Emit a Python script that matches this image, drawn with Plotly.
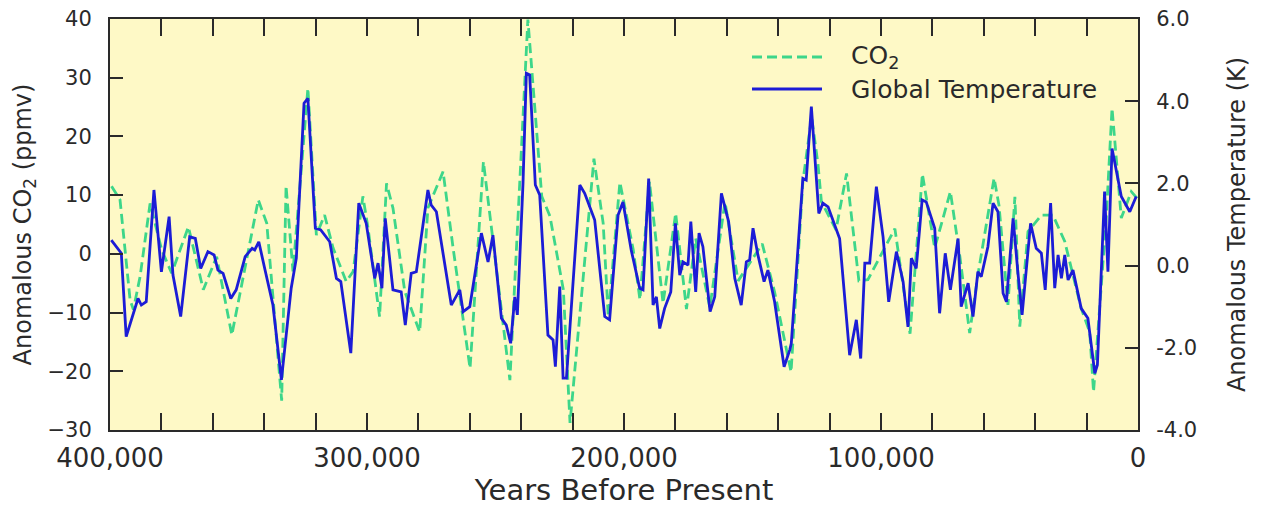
import plotly.graph_objects as go

# Vostok-style anomaly records, age in thousands of years before present
temp_kyr = [399.5, 395.6, 393.7, 389.1, 387.8, 385.9, 382.9, 380.0, 377.0, 375.5,
            372.5, 369.0, 366.8, 364.7, 361.9, 359.5, 358.0, 356.0, 353.0, 350.9,
            347.4, 344.7, 343.7, 342.1, 339.8, 336.6, 333.3, 329.5, 327.5, 324.5,
            323.0, 320.1, 318.0, 314.5, 311.9, 310.2, 306.3, 303.2, 300.3, 297.0,
            295.7, 294.2, 292.9, 289.9, 286.7, 285.1, 282.8, 280.8, 276.3, 275.0,
            273.0, 267.2, 263.9, 262.6, 260.0, 255.5, 252.9, 251.0, 247.7, 245.8,
            244.1, 242.5, 241.5, 239.3, 238.0, 236.7, 234.5, 232.8, 229.6, 227.6,
            226.7, 225.0, 223.7, 222.4, 217.2, 215.3, 211.4, 207.5, 205.6, 202.3,
            200.4, 197.2, 193.9, 192.6, 190.4, 188.7, 187.4, 186.1, 184.2, 181.8,
            180.0, 178.3, 177.0, 175.1, 174.0, 172.1, 170.8, 169.3, 166.5, 164.7,
            162.1, 160.8, 159.3, 156.9, 154.4, 152.4, 151.1, 149.8, 147.9, 145.5,
            144.0, 141.4, 137.7, 135.5, 134.9, 130.4, 129.1, 127.1, 124.2, 122.6,
            120.6, 116.1, 112.2, 109.6, 107.9, 106.3, 104.4, 101.8, 99.2, 97.0,
            94.0, 91.4, 89.5, 88.2, 86.3, 84.0, 82.4, 79.1, 77.2, 75.0,
            73.0, 70.0, 68.8, 66.1, 64.2, 62.3, 61.0, 58.4, 56.4, 54.5,
            52.5, 51.2, 48.6, 46.7, 45.1, 41.8, 39.6, 37.6, 36.1, 34.0,
            32.4, 31.1, 29.8, 28.5, 27.2, 25.3, 22.1, 19.5, 16.8, 15.8,
            13.0, 11.7, 10.1, 6.5, 3.2, 0.7]
temp_k = [0.62, 0.30, -1.73, -0.80, -0.96, -0.88, 1.84, -0.15, 1.19, -0.23,
          -1.24, 0.70, 0.66, -0.07, 0.34, 0.26, -0.11, -0.19, -0.80, -0.59,
          0.22, 0.42, 0.38, 0.58, -0.07, -0.96, -2.78, -0.55, 0.18, 3.95,
          4.07, 0.91, 0.87, 0.58, -0.31, -0.39, -2.13, 1.52, 1.03, -0.31,
          0.06, -0.55, 1.15, -0.59, -0.64, -1.45, -0.19, -0.15, 1.84, 1.47,
          1.31, -0.96, -0.59, -1.12, -1.00, 0.79, 0.09, 0.74, -1.28, -1.45,
          -1.89, -0.76, -1.20, 2.00, 4.68, 4.64, 1.96, 1.72, -1.69, -1.81,
          -2.46, -0.51, -2.74, -2.74, 1.96, 1.76, 1.11, -1.24, -1.32, 1.23,
          1.55, 0.38, -0.55, -0.59, 2.12, -0.96, -0.76, -1.53, -1.04, -0.64,
          1.03, -0.23, 0.09, 0.01, 1.07, -0.64, 0.79, 0.46, -1.12, -0.76,
          1.76, 1.47, 1.07, -0.31, -0.96, 0.09, 0.14, 0.91, 0.26, -0.39,
          -0.11, -0.88, -2.46, -2.05, -1.89, 2.12, 2.08, 3.87, 1.27, 1.52,
          1.43, 0.66, -2.18, -1.32, -2.26, 0.06, 0.06, 1.92, 0.70, -0.88,
          0.34, -0.39, -1.49, 0.18, -0.07, 1.60, 1.55, 0.91, -1.16, 0.30,
          -0.59, 0.66, -1.00, -0.43, -1.24, -0.15, -0.27, 0.46, 1.52, 1.31,
          -0.67, -0.88, 1.15, -0.19, -1.20, 1.03, 0.42, 0.30, -0.59, 1.52,
          -0.55, 0.26, -0.31, 0.26, -0.35, -0.11, -1.04, -1.28, -2.62, -2.42,
          1.80, -0.15, 2.85, 1.68, 1.31, 1.68]

co2_kyr = [399.4, 396.1, 392.2, 390.9, 388.3, 384.4, 379.9, 376.0, 369.5, 363.7,
           358.5, 352.6, 349.4, 342.3, 339.0, 333.2, 331.5, 328.8, 323.0, 319.7,
           316.5, 313.2, 308.1, 305.4, 301.6, 299.6, 295.1, 292.4, 289.9, 285.3,
           279.5, 276.3, 270.4, 266.5, 259.9, 254.7, 244.4, 237.4, 232.0, 228.8,
           223.6, 221.0, 211.7, 208.1, 206.1, 201.6, 196.4, 193.8, 190.1, 184.8,
           179.9, 175.7, 172.1, 166.6, 160.7, 155.6, 146.2, 141.4, 135.0, 130.4,
           127.0, 124.5, 123.2, 117.5, 113.4, 108.6, 105.1, 94.6, 88.7, 83.9,
           79.1, 73.0, 69.3, 65.5, 62.3, 56.0, 54.1, 50.6, 47.9, 46.0,
           42.8, 37.6, 33.1, 28.5, 25.3, 22.1, 18.8, 17.3, 12.3, 10.1,
           6.5, 2.6, 0.4]
co2_ppmv = [11.5, 9.2, -7.8, -9.5, -3.9, 8.6, 0.7, -3.3, 4.6, -6.1,
            -0.5, -13.8, -6.7, 9.2, 5.2, -25.0, 11.6, -3.0, 28.2, 3.2,
            6.6, 1.0, -4.7, -3.0, 9.8, 4.4, -10.7, 12.0, 7.8, -6.4,
            -13.3, 7.8, 14.0, 1.0, -19.5, 15.7, -21.5, 39.9, 9.8, 6.4,
            -6.1, -28.8, 16.2, 5.2, -10.7, 12.2, 0.7, -7.8, 12.3, -8.4,
            6.9, -9.4, 2.6, -9.1, 8.8, -4.6, 1.7, -6.5, -20.1, 12.3,
            23.3, 15.2, 8.9, 4.1, 13.7, -4.6, -4.4, 4.3, -13.6, 13.6,
            1.0, 10.6, -0.5, -13.5, -3.6, 12.9, 8.3, -8.7, 9.7, -12.4,
            3.8, 6.6, 6.6, 2.1, -3.6, -9.3, -13.3, -23.5, 6.6, 24.8,
            6.1, 10.6, 9.5]

x_tick_vals = [400000, 300000, 200000, 100000, 0]
x_tick_text = ["400,000", "300,000", "200,000", "100,000", "0"]
temp_tick_vals = [-4, -2, 0, 2, 4, 6]
temp_tick_text = ["-4.0", "-2.0", "0.0", "2.0", "4.0", "6.0"]

TEMP_COLOR = "#1c1cd6"
CO2_COLOR = "#3dd68a"
INK = "#2a2a2a"
FONT = "DejaVu Sans"

fig = go.Figure()
fig.add_trace(go.Scatter(
    x=[k * 1000 for k in temp_kyr], y=temp_k, yaxis="y2",
    mode="lines", name="Global Temperature",
    line=dict(color=TEMP_COLOR, width=2.8),
))
fig.add_trace(go.Scatter(
    x=[k * 1000 for k in co2_kyr], y=co2_ppmv,
    mode="lines", name="CO<sub>2</sub>",
    line=dict(color=CO2_COLOR, width=2.8, dash="10px,5px"),
))

axis_common = dict(
    showline=True, linecolor=INK, linewidth=2,
    ticks="inside", tickcolor=INK, tickwidth=2,
    showgrid=False, zeroline=False, automargin=False,
)

fig.update_layout(
    width=1263, height=507,
    margin=dict(l=110, r=125, t=19, b=77),
    paper_bgcolor="white", plot_bgcolor="#fef9c6",
    font=dict(family=FONT, size=21, color=INK),
    showlegend=False,
    xaxis=dict(
        **axis_common,
        range=[400000, 0], mirror="allticks",
        tickmode="array", tickvals=x_tick_vals, ticktext=x_tick_text,
        tickfont=dict(size=26),
        ticklen=17, ticklabelstandoff=4,
        minor=dict(tickmode="linear", tick0=0, dtick=20000, ticks="inside",
                   ticklen=9, tickwidth=2, tickcolor=INK, showgrid=False),
        title=dict(text="Years Before Present", font=dict(size=29), standoff=8),
    ),
    yaxis=dict(
        **axis_common,
        range=[-30, 40], dtick=10, mirror=True,
        ticklen=13, ticklabelstandoff=12,
        title=dict(text="Anomalous CO<sub>2</sub> (ppmv)", font=dict(size=24), standoff=9),
    ),
    yaxis2=dict(
        **axis_common,
        overlaying="y", side="right", range=[-4, 6],
        tickmode="array", tickvals=temp_tick_vals, ticktext=temp_tick_text,
        ticklen=13, ticklabelstandoff=12,
        title=dict(text="Anomalous Temperature (K)", font=dict(size=24), standoff=32),
    ),
)

# legend drawn as line samples plus labels in the upper right of the plot
legend_rows = [
    ("CO<sub>2</sub>", CO2_COLOR, "10px,5px", 57),
    ("Global Temperature", TEMP_COLOR, "solid", 89),
]
for label, color, dash, py in legend_rows:
    yp = (430 - py) / 411
    fig.add_shape(type="line", xref="paper", yref="paper",
                  x0=(752 - 110) / 1028, x1=(822 - 110) / 1028, y0=yp, y1=yp,
                  line=dict(color=color, width=2.8, dash=dash))
    fig.add_annotation(xref="paper", yref="paper", x=(849 - 110) / 1028, y=yp,
                       xanchor="left", yanchor="middle", showarrow=False,
                       text=label, font=dict(size=25, color=INK))

fig.write_html("out.html")
